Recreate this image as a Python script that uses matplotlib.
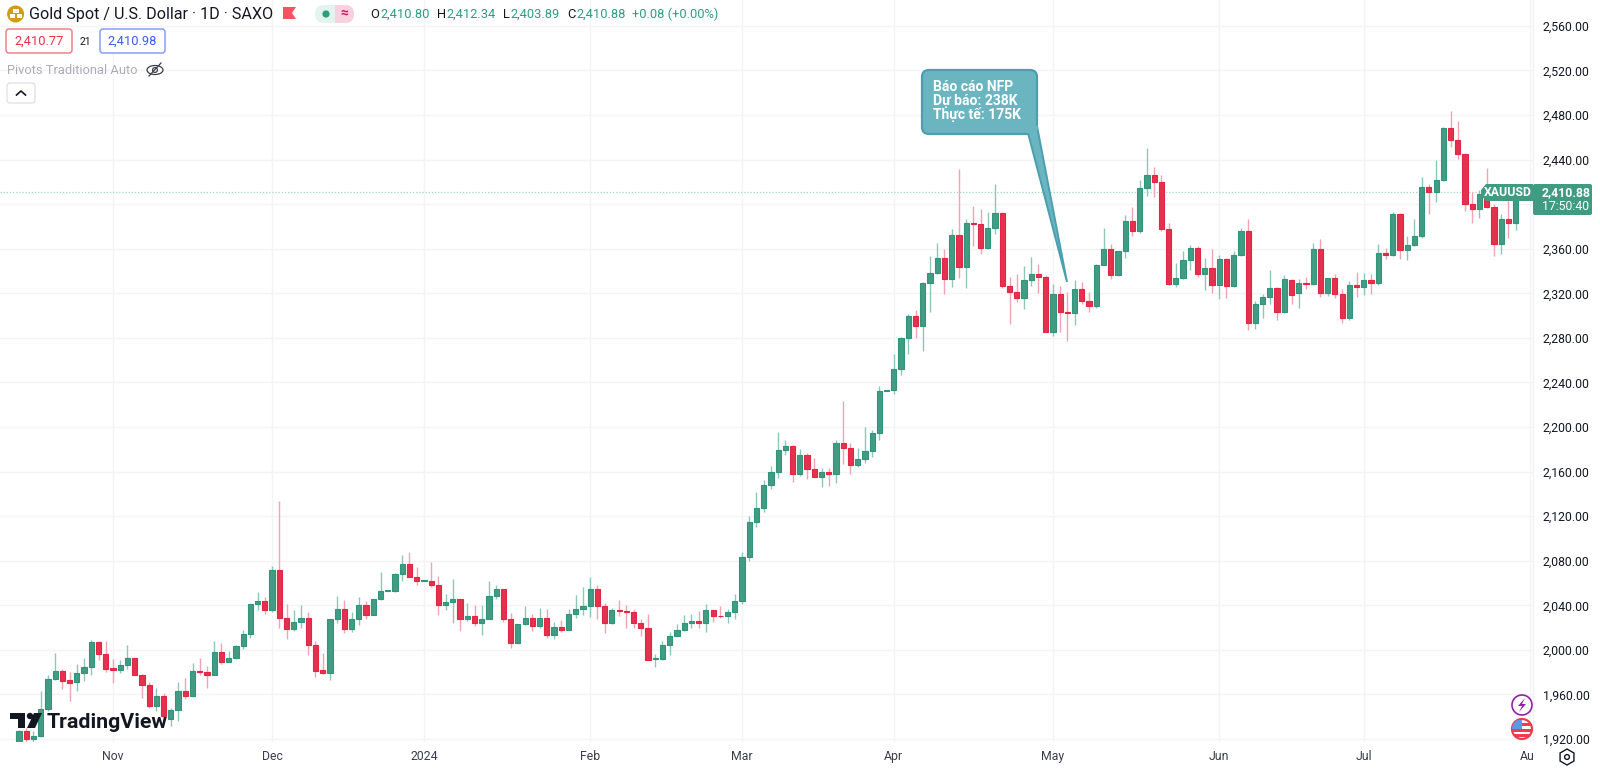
import matplotlib
matplotlib.use("Agg")
import matplotlib.pyplot as plt
from matplotlib.patches import Circle, FancyBboxPatch, Polygon, Rectangle, RegularPolygon, Ellipse

plt.rcParams['font.family'] = ['Roboto', 'DejaVu Sans']

# daily XAUUSD candles
opens = [1917, 1927, 1920, 1923, 1947, 1974, 1981, 1973, 1971, 1979, 1985, 2007, 1996, 1983.5, 1982, 1986, 1993, 1977.5, 1968.5, 1950,
         1958.5, 1938, 1946, 1963, 1959, 1981, 1980, 1977.5, 1998.5, 1989.5, 1992.5, 2003.5, 2014, 2041, 2044, 2036, 2072, 2029, 2019, 2025,
         2029, 2004, 1982, 1979, 2027.5, 2036.5, 2019, 2027.5, 2040.5, 2031, 2045.5, 2053, 2053, 2068, 2077, 2065, 2062, 2062, 2058.5, 2040.5,
         2043, 2045.5, 2027.5, 2030, 2024, 2028, 2048.5, 2054.5, 2027.5, 2006, 2023, 2029, 2021.5, 2029, 2013, 2020.5, 2018, 2032.5, 2036.5, 2039,
         2054.5, 2039.5, 2024.5, 2035.5, 2035, 2034, 2024, 2020, 1992, 1992, 2004.5, 2012.5, 2017.5, 2024.5, 2026, 2024.5, 2035.5, 2030.5, 2030, 2034,
         2044, 2083, 2114.5, 2127.5, 2147.5, 2159.5, 2179, 2182.5, 2158, 2174.5, 2162, 2155.5, 2159.5, 2157.5, 2186, 2181.5, 2165.5, 2171.5, 2178.5, 2194.5,
         2232.5, 2233, 2252, 2280, 2300, 2291, 2329.5, 2338.5, 2351.5, 2333, 2372.5, 2344, 2383, 2382.5, 2360.5, 2378.5, 2392, 2326.5, 2321.5, 2316,
         2332, 2337.5, 2334.5, 2285.5, 2319.5, 2303.5, 2302.5, 2323.5, 2313.5, 2308.5, 2345.5, 2360, 2336.5, 2357.5, 2385, 2376, 2414.5, 2426, 2420, 2378,
         2328.5, 2333.5, 2350, 2360.5, 2337.5, 2342.5, 2327, 2350.5, 2326.5, 2354.5, 2375.5, 2293.5, 2310.5, 2316.5, 2325, 2303, 2332, 2320, 2329, 2328.5,
         2359.5, 2320, 2333.5, 2319.5, 2298, 2327, 2326, 2331.5, 2329, 2356, 2354.5, 2391.5, 2358.5, 2363, 2371, 2415, 2410.5, 2421.5, 2468.5, 2458,
         2445, 2400.5, 2396, 2409, 2397, 2364, 2386.5, 2383]
highs = [1928, 1930, 1927, 1963, 1977, 1997, 1983, 1980, 1987, 1993, 2009, 2007.5, 2008, 1992, 1991, 2004, 1993, 1978, 1971, 1966,
         1961, 1948, 1971, 1975, 1988, 1993, 1985.5, 2008, 2006, 1999, 2004, 2018, 2041.5, 2052, 2047, 2075, 2134, 2041, 2036, 2040,
         2034, 2008, 1997, 2028, 2048, 2045, 2034, 2047, 2043.5, 2046, 2070, 2054, 2069, 2085, 2088, 2074, 2062.5, 2078.5, 2066, 2050,
         2064, 2046, 2042, 2040, 2040, 2062, 2058, 2055, 2033, 2023.5, 2039, 2032, 2038, 2036.5, 2025, 2027, 2037, 2049, 2056, 2065.5,
         2058, 2042, 2038, 2044.5, 2040, 2037, 2027.5, 2032, 1996, 2008, 2016, 2023.5, 2031, 2032, 2034.5, 2041, 2036, 2039, 2037, 2050.5,
         2088, 2120, 2141.5, 2152.5, 2165, 2195.5, 2188.5, 2184, 2180, 2176.5, 2172.5, 2163, 2163, 2188.5, 2223, 2185.5, 2181.5, 2200, 2197.5, 2237,
         2233, 2265.5, 2281, 2301, 2305, 2330, 2353.5, 2365, 2359.5, 2377.5, 2431.5, 2387, 2398, 2395.5, 2392.5, 2418, 2392.5, 2334.5, 2337, 2344.5,
         2352.5, 2346.5, 2336, 2328, 2326.5, 2321, 2331.5, 2330, 2321.5, 2346.5, 2378.5, 2364.5, 2358, 2390, 2397, 2422, 2450, 2433.5, 2426, 2383.5,
         2347, 2358, 2363.5, 2362, 2351.5, 2359.5, 2354, 2352, 2357.5, 2378.5, 2387, 2313.5, 2319.5, 2341, 2325.5, 2336, 2332.5, 2332.5, 2334.5, 2365,
         2368.5, 2334, 2337.5, 2323.5, 2331, 2339, 2338, 2337.5, 2364, 2361, 2393, 2392, 2371, 2386.5, 2424, 2418, 2439.5, 2469.5, 2483.5, 2474.5,
         2445.5, 2411, 2412.5, 2432, 2400.5, 2391, 2403.5, 2412.5]
lows = [1916, 1917, 1917, 1922, 1945, 1973, 1965, 1954, 1963, 1972, 1977, 1991, 1980, 1970, 1979, 1983, 1977, 1957, 1947.5, 1945,
        1939, 1932, 1936, 1956, 1958, 1977, 1966, 1977, 1987, 1989, 1992, 2001, 2011, 2036, 2032, 2034, 2020, 2010, 2017, 2020,
        1995, 1976, 1978, 1973, 2024, 2015, 2016, 2022, 2027.5, 2031, 2045, 2052.5, 2052, 2061.5, 2065, 2058.5, 2061.5, 2056, 2031, 2036,
        2024, 2016.5, 2026, 2021, 2013.5, 2028, 2046, 2025, 2001.5, 2005.5, 2022, 2016.5, 2020, 2011, 2010, 2016, 2018, 2029, 2031, 2029.5,
        2027.5, 2015, 2023.5, 2030.5, 2020, 2020, 2012, 1990.5, 1984.5, 1991, 1995, 2012, 2016.5, 2020, 2019.5, 2016, 2025, 2029, 2024.5, 2028,
        2041, 2079.5, 2110.5, 2124, 2144.5, 2154, 2175, 2150.5, 2156, 2153, 2155, 2146.5, 2147, 2149.5, 2166.5, 2157.5, 2164, 2168, 2173.5, 2188,
        2232, 2230, 2247, 2265.5, 2280, 2268, 2303, 2337, 2319.5, 2326, 2333.5, 2325, 2362.5, 2355, 2360, 2373, 2325, 2292, 2312, 2305.5,
        2326.5, 2320, 2285, 2281.5, 2285.5, 2277, 2291.5, 2310, 2303.5, 2307, 2345, 2332.5, 2335.5, 2352, 2371, 2374.5, 2407.5, 2406.5, 2375.5, 2327.5,
        2325.5, 2332.5, 2340.5, 2335, 2323, 2320.5, 2315, 2316, 2326, 2353.5, 2287, 2287.5, 2297.5, 2310.5, 2296, 2302, 2310, 2306.5, 2324, 2327.5,
        2317, 2317.5, 2315.5, 2293.5, 2296, 2316.5, 2318.5, 2319.5, 2327, 2351, 2353.5, 2351, 2349.5, 2362.5, 2370, 2391, 2401.5, 2420.5, 2451, 2440.5,
        2394, 2383.5, 2387.5, 2396.5, 2353.5, 2355.5, 2369.5, 2377]
closes = [1927, 1920, 1923, 1947, 1974, 1981, 1972, 1970.5, 1979.5, 1985, 2007, 1996, 1983, 1982, 1986, 1993, 1977.5, 1968.5, 1950, 1958.5,
          1941, 1946, 1963, 1959, 1981, 1980, 1977.5, 1998.5, 1989.5, 1992.5, 2003.5, 2014, 2041, 2044, 2036, 2072, 2029, 2019, 2025, 2029,
          2004, 1981, 1979, 2027.5, 2036.5, 2019, 2027.5, 2040.5, 2031, 2045.5, 2053, 2053.5, 2068, 2077, 2065, 2062, 2062.4, 2058.5, 2040.5, 2043,
          2045.5, 2027.5, 2030, 2024, 2028, 2048.5, 2054.5, 2027.5, 2006, 2023, 2029, 2021.5, 2029, 2013, 2020.5, 2018, 2032.5, 2036.5, 2039, 2054.5,
          2039, 2024.5, 2035.5, 2035, 2034, 2024, 2020, 1991, 1992.7, 2004.5, 2012.5, 2017.5, 2024.5, 2026, 2024.5, 2035.5, 2030.5, 2030, 2034, 2044,
          2083, 2114.5, 2127.5, 2147.5, 2159.5, 2179, 2182.5, 2158, 2174.5, 2162, 2155.5, 2159.5, 2157.5, 2186, 2181.5, 2165.5, 2171.5, 2178.5, 2194.5, 2232.5,
          2232.8, 2252, 2280, 2300, 2291, 2329.5, 2338.5, 2351.5, 2333, 2372.5, 2344, 2383, 2382.5, 2360.5, 2378.5, 2392, 2326.5, 2321.5, 2316, 2332,
          2337.5, 2334.5, 2285.5, 2319.5, 2303, 2302.5, 2323.5, 2313.5, 2308.5, 2345.5, 2360, 2336.5, 2357.5, 2385, 2376, 2414.5, 2426, 2420, 2378, 2328.5,
          2333.5, 2350, 2360.5, 2337.5, 2342.5, 2327, 2350.5, 2326.5, 2354.5, 2375.5, 2293.5, 2310.5, 2316.5, 2325, 2303, 2332.5, 2318.5, 2329, 2328.5, 2359.5,
          2320, 2333.5, 2319.5, 2298, 2327.5, 2326, 2331.5, 2329, 2356, 2354.5, 2391.5, 2358.5, 2363, 2371, 2415, 2410.5, 2421.5, 2468.5, 2458, 2445,
          2400.5, 2396, 2409, 2397, 2364, 2386.5, 2383, 2410.88]

price_ticks = [1920, 1960, 2000, 2040, 2080, 2120, 2160, 2200, 2240, 2280, 2320, 2360, 2400, 2440, 2480, 2520, 2560]
month_bars = [13, 35, 56, 79, 100, 121, 143, 166, 186]
month_labels = ["Nov", "Dec", "2024", "Feb", "Mar", "Apr", "May", "Jun", "Jul"]

GREEN, GREEN_EDGE, GREEN_WICK = "#419c83", "#2f957b", "#8ec7b7"
RED, RED_EDGE, RED_WICK = "#e2324f", "#e62444", "#f3a3b2"
GRID = "#f3f4f6"
INK = "#131722"

fig = plt.figure(figsize=(16, 7.7), dpi=100, facecolor="white")
ax = fig.add_axes([0, 28 / 770, 1533 / 1600, 742 / 770])
ax.set_xlim(-2.63, 209.4)
ax.set_ylim(1917.3, 2583.2)
for s in ["top", "left", "bottom"]:
    ax.spines[s].set_visible(False)
ax.spines["right"].set_color("#f0f1f4")

ax.set_yticks(price_ticks)
ax.set_yticklabels([f"{p:,.2f}" for p in price_ticks], fontsize=8.8, color=INK)
ax.yaxis.tick_right()
ax.tick_params(axis="y", length=0, pad=7)
ax.set_xticks(month_bars + [209])
ax.set_xticklabels(month_labels + [""], fontsize=8.8, color="#3a3e4a")
ax.tick_params(axis="x", length=0, pad=6)
ax.grid(True, color=GRID, lw=1)
ax.set_axisbelow(True)

bars = range(len(opens))
up = [c >= o for o, c in zip(opens, closes)]
wick_colors = [GREEN_WICK if u else RED_WICK for u in up]
ax.vlines(bars, lows, highs, colors=wick_colors, lw=1, zorder=2)
ax.bar(bars, [abs(c - o) for o, c in zip(opens, closes)], bottom=[min(o, c) for o, c in zip(opens, closes)],
       width=0.72, color=[GREEN if u else RED for u in up],
       edgecolor=[GREEN_EDGE if u else RED_EDGE for u in up], lw=0.8, zorder=3)
ax.axhline(closes[-1], color="#a3d6c6", lw=0.9, ls=(0, (1, 1.5)), zorder=1)

# overlay in pixels for the TradingView furniture
ov = fig.add_axes([0, 0, 1, 1], facecolor="none")
ov.set_xlim(0, 1600)
ov.set_ylim(770, 0)
ov.axis("off")


def box(x0, y0, x1, y1, fc, ec="none", r=3, lw=1.0, z=5):
    ov.add_patch(FancyBboxPatch((x0, y0), x1 - x0, y1 - y0, boxstyle=f"round,pad=0,rounding_size={r}",
                                fc=fc, ec=ec, lw=lw, zorder=z))


# header
ov.add_patch(Circle((15.6, 14), 8.5, fc="#d29b10", ec="none"))
ov.add_patch(Rectangle((13, 8.5), 5.5, 4, fc="white"))
ov.add_patch(Rectangle((9.5, 14), 5.5, 4, fc="white"))
ov.add_patch(Rectangle((16.5, 14), 5.5, 4, fc="white"))
ov.text(29, 14, "Gold Spot / U.S. Dollar · 1D · SAXO", fontsize=11.6, color=INK, va="center")
ov.add_patch(Polygon([(283, 7), (296, 7), (292, 13), (296, 19), (283, 19)], fc="#f7525f", ec="none"))
box(315, 5, 354, 23, "#e3f3ee", r=9)
ov.add_patch(Rectangle((335, 5), 12, 18, fc="#f7d2de", ec="none", zorder=5.1))
box(335, 5, 354, 23, "#f7d2de", r=9, z=5.1)
ov.add_patch(Circle((326, 14), 3.6, fc="#2f9c80", ec="none", zorder=6))
ov.text(344, 14, "≈", fontsize=10, color="#c2185b", ha="center", va="center", zorder=6, fontweight="bold")

VALUE_GREEN = "#2f9c80"
for lab, lx, val, vx in [("O", 370, "2,410.80", 380), ("H", 437, "2,412.34", 446),
                         ("L", 503, "2,403.89", 510), ("C", 567, "2,410.88", 576)]:
    ov.text(lx, 14, lab, fontsize=9.3, color=INK, va="center")
    ov.text(vx, 14, val, fontsize=9.3, color=VALUE_GREEN, va="center")
ov.text(632, 14, "+0.08 (+0.00%)", fontsize=9.3, color=VALUE_GREEN, va="center")

box(6, 29, 72, 53, "white", ec="#f2727f", r=3)
ov.text(39, 41, "2,410.77", fontsize=9.3, color="#e8304a", ha="center", va="center", zorder=6)
ov.text(85, 42, "21", fontsize=7.5, color=INK, ha="center", va="center")
box(100, 29, 165, 53, "white", ec="#7d93ff", r=3)
ov.text(132.5, 41, "2,410.98", fontsize=9.3, color="#3b5bf0", ha="center", va="center", zorder=6)

ov.text(7, 70, "Pivots Traditional Auto", fontsize=9.3, color="#a9adb6", va="center")
ov.add_patch(Ellipse((155, 70), 16, 9, fc="none", ec="#3a3e4a", lw=0.9))
ov.add_patch(Circle((155, 70), 2.4, fc="none", ec="#3a3e4a", lw=0.9))
ov.plot([149, 161], [76, 63], color="#3a3e4a", lw=0.9)
box(7, 83, 35, 103, "white", ec="#e0e3eb", r=3)
ov.plot([16.5, 21, 25.5], [95, 91, 95], color=INK, lw=1.2, zorder=6)

# callout
FILL, EDGE = "#6bb5c0", "#4a9fb0"
box(922, 70, 1037, 134, FILL, ec=EDGE, r=7, lw=1.6, z=7)
ov.add_patch(Polygon([(1028, 133), (1067, 282), (1037, 126)], closed=False, fc=FILL, ec=EDGE, lw=1.4, zorder=7))
ov.add_patch(Polygon([(1027, 131), (1038, 125), (1037, 133), (1029, 134)], fc=FILL, ec="none", zorder=8))
for yy, line in [(87, "Báo cáo NFP"), (101, "Dự báo: 238K"), (115, "Thực tế: 175K")]:
    ov.text(933, yy, line, fontsize=10, color="white", va="center", zorder=9, fontweight="bold")

# price labels
TAG = "#3f9c82"
ov.add_patch(Polygon([(1481, 190), (1486, 184), (1533, 184), (1533, 201), (1486, 201), (1481, 195)], fc=TAG, ec="none", zorder=6))
ov.text(1508, 193, "XAUUSD", fontsize=8.8, color="white", ha="center", va="center", zorder=7, fontweight="bold")
box(1533, 184, 1592, 215, TAG, r=2, z=6)
ov.text(1566, 193, "2,410.88", fontsize=8.8, color="white", ha="center", va="center", zorder=7, fontweight="bold")
ov.text(1566, 206, "17:50:40", fontsize=8.8, color="white", ha="center", va="center", zorder=7)

ov.text(1520, 757, "Au", fontsize=8.8, color="#3a3e4a", va="center")

# settings hexagon
ov.add_patch(RegularPolygon((1567, 757), 6, radius=8, fc="none", ec=INK, lw=1))
ov.add_patch(Circle((1567, 757), 2.4, fc="none", ec=INK, lw=1))

# event icons
ov.add_patch(Circle((1522, 705), 10, fc="white", ec="#8e24aa", lw=1.2, zorder=6))
ov.add_patch(Polygon([(1525, 698), (1518, 706), (1522, 706), (1519, 712), (1526, 704), (1522, 704)], fc="#8e24aa", ec="none", zorder=7))
flag = Circle((1522, 729), 10, fc="white", ec="#ef3b4e", lw=1.6, zorder=6)
ov.add_patch(flag)
for yy in [723, 729, 734]:
    st = Rectangle((1512, yy), 20, 2.6, fc="#ef3b4e", ec="none", zorder=7)
    ov.add_patch(st)
    st.set_clip_path(flag)
cant = Rectangle((1512, 720), 10, 9, fc="#5a9ae8", ec="none", zorder=8)
ov.add_patch(cant)
cant.set_clip_path(flag)

# TradingView watermark
LOGO = "#131722"
ov.add_patch(Polygon([(10, 713), (25, 713), (25, 728), (18, 728), (18, 719), (10, 719)], fc=LOGO, ec="none", zorder=8))
ov.add_patch(Circle((30, 716), 3.2, fc=LOGO, ec="none", zorder=8))
ov.add_patch(Polygon([(34, 713), (42, 713), (35, 728), (27, 728)], fc=LOGO, ec="none", zorder=8))
ov.text(47, 722, "TradingView", fontsize=15.4, color=LOGO, va="center", zorder=8, fontweight="bold")

fig.savefig("out.png", dpi=100)
